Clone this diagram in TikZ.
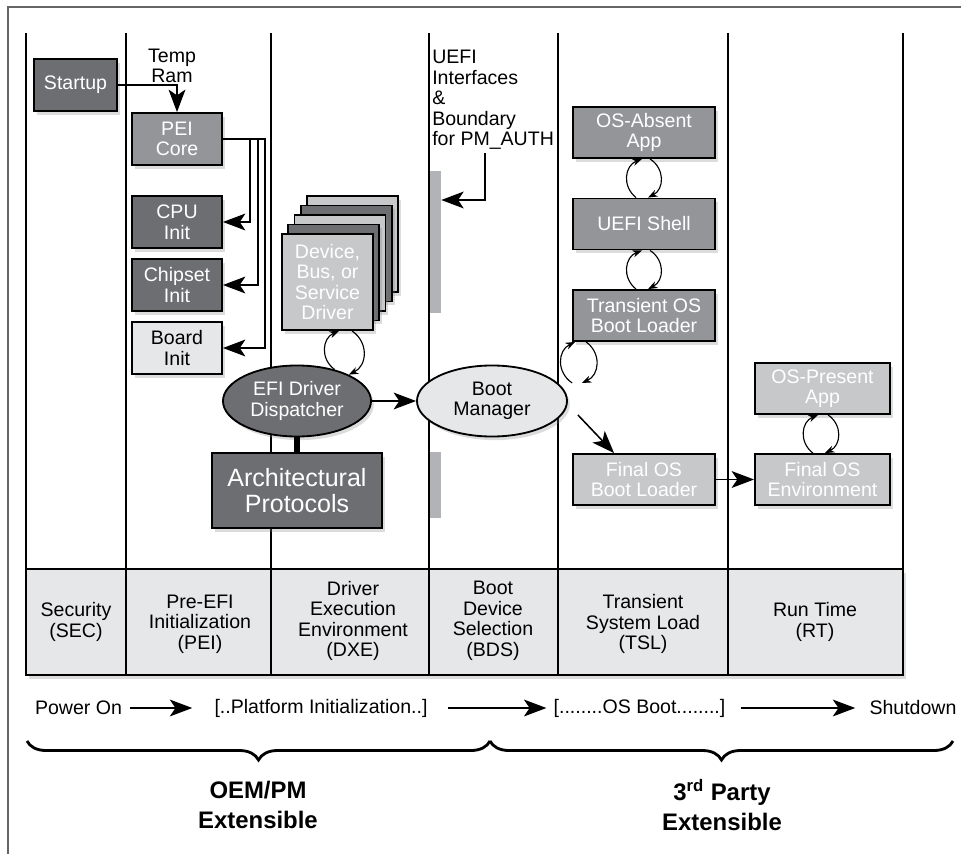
\documentclass[tikz,border=0pt]{standalone}
\usepackage{fontspec}
\setmainfont{Liberation Sans}
\usetikzlibrary{arrows.meta,calc,positioning,shapes.geometric,shadows,decorations.pathreplacing}
\definecolor{BoxDark}{HTML}{6D6E71}
\definecolor{BoxMid}{HTML}{939598}
\definecolor{BoxLight}{HTML}{C7C8CA}
\definecolor{BoxPale}{HTML}{E6E7E8}
\definecolor{BarGray}{HTML}{B1B3B6}
\definecolor{FrameGray}{HTML}{666666}
\newcommand{\boxfont}{\fontsize{13.9}{14.6}\selectfont}
\newcommand{\bigfont}{\fontsize{17.8}{18.2}\selectfont}
\newcommand{\capfont}{\fontsize{17}{21.3}\selectfont\bfseries}

\begin{document}
\begin{tikzpicture}[
  x=0.025cm, y=-0.025cm,
  >={Stealth[length=0.56cm,width=0.42cm,inset=0.14cm]},
  every node/.style={font=\boxfont,align=center,inner sep=0pt},
  boxshadow/.style={drop shadow={shadow xshift=0.07cm,shadow yshift=-0.09cm,opacity=0.28}},
  stage/.style={draw,line width=1.3pt,boxshadow},
  darkbox/.style={stage,fill=BoxDark,text=white},
  midbox/.style={stage,fill=BoxMid,text=white},
  lightbox/.style={stage,fill=BoxLight,text=white},
  palebox/.style={stage,fill=BoxPale},
  pebox/.style={minimum width=2.25cm,minimum height=1.3cm},
  tslbox/.style={minimum width=3.55cm,minimum height=1.275cm},
  rtbox/.style={minimum width=3.375cm,minimum height=1.275cm},
  drvbox/.style={minimum width=2.275cm,minimum height=2.4cm},
  blob/.style={ellipse,minimum width=3.7cm,minimum height=1.775cm},
  phaseline/.style={line width=1.3pt},
  link/.style={line width=1.1pt,->},
  handoff/.style={line width=0.8pt,-{Stealth[length=0.24cm,width=0.18cm]},bend left=60,looseness=1.2}
]
  \useasboundingbox (0,0) rectangle (961,854);
  \draw[FrameGray,line width=0.9pt] (8,854) -- (8,7) -- (961,7);

  % phase table and columns
  \fill[BoxPale,boxshadow] (26,569) rectangle (903,675);
  \foreach \xp in {26,126,271,429,558,728,903}
    \draw[phaseline] (\xp,33) -- (\xp,675);
  \draw[phaseline] (26,569) rectangle (903,675);

  \node (secphase) at (76,622) {Security\\(SEC)};
  \node (peiphase) at (200,624) {Pre-EFI\\Initialization\\(PEI)};
  \node (dxephase) at (353,621) {Driver\\Execution\\Environment\\(DXE)};
  \node (bdsphase) at (493,621) {Boot\\Device\\Selection\\(BDS)};
  \node (tslphase) at (643,624) {Transient\\System Load\\(TSL)};
  \node (rtphase) at (815,622) {Run Time\\(RT)};

  % SEC / PEI
  \node[darkbox,minimum width=2.075cm,minimum height=1.3cm] (startup) at (75.5,85) {Startup};
  \node (tempram) at (172,66) {Temp\\Ram};
  \node[midbox,pebox] (peicore) at (177,139) {PEI\\Core};
  \node[darkbox,pebox] (cpuinit) at (177,222) {CPU\\Init};
  \node[darkbox,pebox] (chipinit) at (177,285) {Chipset\\Init};
  \node[palebox,pebox] (boardinit) at (177,348) {Board\\Init};

  \draw[link] (startup) -| (peicore);
  \draw[link] (peicore.east) -- ++(27,0) |- (cpuinit);
  \draw[link] (peicore.east) -- ++(35,0) |- (chipinit);
  \draw[link] (peicore.east) -- ++(42,0) |- (boardinit);

  % DXE
  \foreach \k/\tone in {4/BoxLight,3/BoxDark,2/BoxLight,1/BoxDark}
    \node[stage,drvbox,fill=\tone] (layer\k) at (327.5+6.25*\k,282-9.5*\k) {};
  \node[lightbox,drvbox] (driver) at (327.5,282) {Device,\\Bus, or\\Service\\Driver};
  \node[darkbox,blob] (dispatch) at (297,401) {EFI Driver\\Dispatcher};
  \node[darkbox,minimum width=4.25cm,minimum height=1.875cm,font=\bigfont] (archproto) at (297,490.5) {Architectural\\Protocols};

  \draw[line width=4.5pt] (dispatch) -- (archproto);
  \draw[handoff] (dispatch.40) to (driver.south -| 339,0);
  \draw[handoff] (driver.south -| 352,0) to (dispatch.27);

  % BDS
  \node[fill=BarGray,minimum width=0.275cm,minimum height=3.55cm] (authbar) at (435.5,242) {};
  \node[fill=BarGray,minimum width=0.275cm,minimum height=1.65cm] (lowbar) at (435.5,485) {};
  \node[align=left,anchor=north west] (uefinote) at (432,50) {UEFI\\Interfaces\\\&\\Boundary\\for PM\_AUTH};
  \node[palebox,blob,minimum width=3.75cm] (bootmgr) at (492,401) {Boot\\Manager};
  \coordinate (authtap) at (485,153);
  \coordinate (authbend) at (485,200);
  \draw[link] (authtap) -- (authbend) -- (authbend -| authbar.east);
  \draw[link] (dispatch) -- (bootmgr);

  % TSL
  \node[midbox,tslbox] (osabsent) at (644,132.5) {OS-Absent\\App};
  \node[midbox,tslbox] (uefishell) at (644,224) {UEFI Shell};
  \node[midbox,tslbox] (transient) at (644,315.5) {Transient OS\\Boot Loader};
  \node[lightbox,tslbox] (finalbl) at (644,479.5) {Final OS\\Boot Loader};
  \coordinate (bmgrip) at (577,383);

  \draw[handoff] ([xshift=-0.2cm]uefishell.north) to ([xshift=-0.05cm]osabsent.south);
  \draw[handoff] ([xshift=0.15cm]osabsent.south) to ([xshift=0.1cm]uefishell.north);
  \draw[handoff] ([xshift=-0.2cm]transient.north) to ([xshift=-0.05cm]uefishell.south);
  \draw[handoff] ([xshift=0.15cm]uefishell.south) to ([xshift=0.1cm]transient.north);
  \draw[handoff] ([xshift=-0.12cm]bmgrip) to ([xshift=0.075cm]transient.south west);
  \draw[handoff] ([xshift=0.35cm]transient.south west) to ([xshift=0.12cm]bmgrip);
  \draw[link] ([shift={(10,14)}]bootmgr.east) -- ([xshift=1.05cm]finalbl.north west);

  % RT
  \node[lightbox,rtbox] (ospresent) at (822.5,388.5) {OS-Present\\App};
  \node[lightbox,rtbox] (finalenv) at (822.5,479.5) {Final OS\\Environment};
  \draw[link] (finalbl) -- (finalenv);
  \draw[handoff] ([xshift=-0.24cm]finalenv.north) to ([xshift=-0.11cm]ospresent.south);
  \draw[handoff] ([xshift=0.14cm]ospresent.south) to ([xshift=0.06cm]finalenv.north);

  % timeline
  \node (poweron) at (78.5,708) {Power On};
  \node (platinit) at (321,708) {[..Platform Initialization..]};
  \node (osboot) at (639.5,708) {[........OS Boot........]};
  \node (shutdown) at (913,708) {Shutdown};
  \draw[link,shorten <=0.2cm,shorten >=0.55cm] (poweron) -- (platinit);
  \draw[link,shorten <=0.5cm,shorten >=0.175cm] (platinit) -- (osboot);
  \draw[link,shorten <=0.375cm,shorten >=0.35cm] (osboot) -- (shutdown);

  % extensibility
  \draw[line width=2pt,decorate,decoration={brace,mirror,amplitude=0.475cm}] (27,741) -- (490,741);
  \draw[line width=2pt,decorate,decoration={brace,mirror,amplitude=0.475cm}] (490,741) -- (953,741);
  \node[font=\capfont] (oemcap) at (258,805) {OEM/PM\\Extensible};
  \node[font=\capfont] (partycap) at (722,805) {3\textsuperscript{rd} Party\\Extensible};
\end{tikzpicture}
\end{document}
